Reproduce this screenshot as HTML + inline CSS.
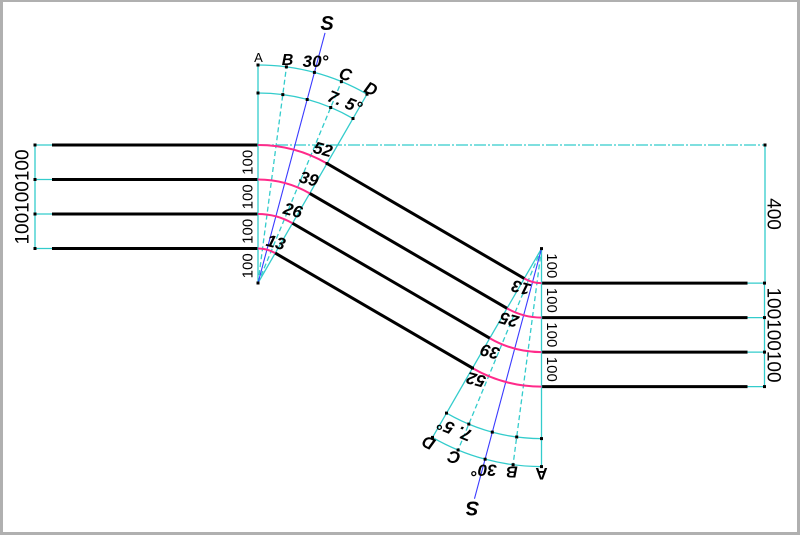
<!DOCTYPE html>
<html><head><meta charset="utf-8"><style>
html,body{margin:0;padding:0;background:#fff;}
svg{display:block;}
text{font-family:"Liberation Sans",sans-serif;fill:#000;}
</style></head><body>
<svg width="800" height="535" viewBox="0 0 800 535" xmlns="http://www.w3.org/2000/svg">
<rect width="800" height="535" fill="#b0b0b0"/>
<rect x="3" y="2" width="794" height="530" fill="#ffffff"/>

<defs>
<g id="half">
  <g stroke="#33cccc" stroke-width="1.3" fill="none">
    <line x1="35" y1="145" x2="35" y2="248.5"/>
    <line x1="35" y1="145" x2="52" y2="145"/>
    <line x1="35" y1="179.5" x2="52" y2="179.5"/>
    <line x1="35" y1="214" x2="52" y2="214"/>
    <line x1="35" y1="248.5" x2="52" y2="248.5"/>
  </g>
  <g stroke="#000" stroke-width="3">
    <line x1="52" y1="145" x2="258" y2="145"/>
    <line x1="52" y1="179.5" x2="258" y2="179.5"/>
    <line x1="52" y1="214" x2="258" y2="214"/>
    <line x1="52" y1="248.5" x2="258" y2="248.5"/>
  </g>
  <g stroke="#33cccc" stroke-width="1.3" fill="none">
    <line x1="258" y1="283" x2="258" y2="65"/>
    <line x1="258" y1="283" x2="367" y2="94.2"/>
    <path d="M258,65 A218,218 0 0 1 367,94.2"/>
    <path d="M258,93 A190,190 0 0 1 353,118.5"/>
    <line x1="258" y1="283" x2="286.45" y2="66.9" stroke-dasharray="5 3"/>
    <line x1="258" y1="283" x2="341.42" y2="81.6" stroke-dasharray="5 3"/>
  </g>
  <line x1="258" y1="283" x2="325.03" y2="32.83" stroke="#3a3aff" stroke-width="1.1"/>
  <g stroke="#ff2a8a" stroke-width="2" fill="none">
    <path d="M258,145 A138,138 0 0 1 327,163.5"/>
    <path d="M258,179.5 A103.5,103.5 0 0 1 309.75,193.4"/>
    <path d="M258,214 A69,69 0 0 1 292.5,223.25"/>
    <path d="M258,248.5 A34.5,34.5 0 0 1 275.25,253.1"/>
  </g>
  <g fill="#000">
    <rect x="33.5" y="143.5" width="3" height="3"/>
    <rect x="33.5" y="178" width="3" height="3"/>
    <rect x="33.5" y="212.5" width="3" height="3"/>
    <rect x="33.5" y="247" width="3" height="3"/>
    <rect x="256.5" y="281.5" width="3" height="3"/>
    <rect x="256.5" y="63.5" width="3" height="3"/>
    <rect x="284.9" y="65.4" width="3" height="3"/>
    <rect x="312.9" y="70.9" width="3" height="3"/>
    <rect x="339.9" y="80.1" width="3" height="3"/>
    <rect x="365.5" y="92.7" width="3" height="3"/>
    <rect x="256.5" y="91.5" width="3" height="3"/>
    <rect x="281.3" y="93.1" width="3" height="3"/>
    <rect x="305.7" y="98" width="3" height="3"/>
    <rect x="329.2" y="106" width="3" height="3"/>
    <rect x="351.5" y="117" width="3" height="3"/>
    <rect x="325.5" y="162" width="3" height="3"/>
  </g>
  <text x="287.5" y="65" font-size="16" font-style="italic" font-weight="bold" text-anchor="middle">B</text>
  <text x="315.5" y="67" font-size="17" font-style="italic" font-weight="bold" text-anchor="middle">30°</text>
  <text transform="translate(345.5,74) rotate(15)" font-size="17" font-style="italic" font-weight="bold" text-anchor="middle" dy="0.36em">C</text>
  <text transform="translate(371,88.5) rotate(25)" font-size="17" font-style="italic" font-weight="bold" text-anchor="middle" dy="0.36em">D</text>
  <text transform="translate(345,101.5) rotate(22)" font-size="17" font-style="italic" font-weight="bold" text-anchor="middle" dy="0.36em">7. 5°</text>
  <text x="327" y="30" font-size="20" font-style="italic" font-weight="bold" text-anchor="middle">S</text>
  <g font-size="15" text-anchor="middle">
    <text transform="translate(247,162.3) rotate(-90)" dy="0.36em">100</text>
    <text transform="translate(247,196.8) rotate(-90)" dy="0.36em">100</text>
    <text transform="translate(247,231.3) rotate(-90)" dy="0.36em">100</text>
    <text transform="translate(247,265.8) rotate(-90)" dy="0.36em">100</text>
  </g>
</g>
</defs>

<line x1="258" y1="145" x2="765" y2="145" stroke="#33cccc" stroke-width="1.2" stroke-dasharray="12 2 2 2"/>
<line x1="765" y1="145" x2="765" y2="283" stroke="#33cccc" stroke-width="1.3"/>
<rect x="763.5" y="143.5" width="3" height="3" fill="#000"/>

<use href="#half"/>
<use href="#half" transform="rotate(180 399.75 265.8)"/>

<text x="258.5" y="62" font-size="13" text-anchor="middle">A</text>
<text transform="translate(541.5,474) rotate(180)" font-size="17" font-weight="bold" text-anchor="middle" dy="0.36em">A</text>

<g stroke="#000" stroke-width="3">
  <line x1="327" y1="163.5" x2="524.25" y2="278.5"/>
  <line x1="309.75" y1="193.4" x2="507" y2="308.35"/>
  <line x1="292.5" y1="223.25" x2="489.75" y2="338.2"/>
  <line x1="275.25" y1="253.1" x2="472.5" y2="368.1"/>
</g>

<g font-size="17" font-style="italic" font-weight="bold" text-anchor="middle">
  <text transform="translate(323,149) rotate(15)" dy="0.36em">52</text>
  <text transform="translate(309,178.5) rotate(15)" dy="0.36em">39</text>
  <text transform="translate(293,210) rotate(15)" dy="0.36em">26</text>
  <text transform="translate(276,242) rotate(15)" dy="0.36em">13</text>
  <text transform="translate(521,288) rotate(195)" dy="0.36em">13</text>
  <text transform="translate(509,320) rotate(195)" dy="0.36em">25</text>
  <text transform="translate(490,352) rotate(195)" dy="0.36em">39</text>
  <text transform="translate(476,380) rotate(195)" dy="0.36em">52</text>
</g>

<g font-size="19" text-anchor="middle">
  <text transform="translate(21.5,197) rotate(-90)" dy="0.36em">100100100</text>
  <text transform="translate(774.5,214) rotate(90)" dy="0.36em">400</text>
  <text transform="translate(774.5,335) rotate(90)" dy="0.36em">100100100</text>
</g>
</svg>
</body></html>
